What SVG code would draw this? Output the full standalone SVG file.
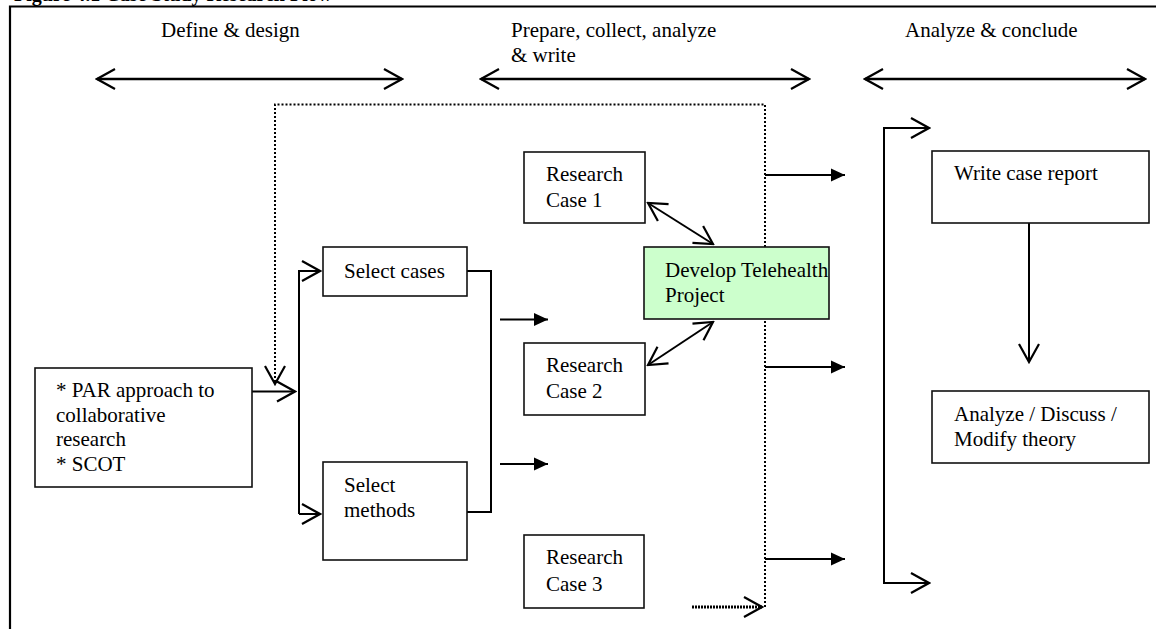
<svg xmlns="http://www.w3.org/2000/svg" width="1156" height="629" viewBox="0 0 1156 629">
  <style>
    .txt { font-family: "Liberation Serif", "Times New Roman", serif; font-size: 21px; fill: #000; }
    .title { font-family: "Liberation Serif", "Times New Roman", serif; font-size: 20px; font-weight: bold; fill: #000; }
    .box { fill: #fff; stroke: #111; stroke-width: 1.6; }
    .hl { fill: #ccffcc; }
    .ln { fill: none; stroke: #000; stroke-width: 2; }
    .phase { fill: none; stroke: #000; stroke-width: 2.5; marker-start: url(#open); marker-end: url(#open); }
    .dot { fill: none; stroke: #000; stroke-width: 2; stroke-dasharray: 2 2; }
    .dotheavy { fill: none; stroke: #000; stroke-width: 3; stroke-dasharray: 2 1; }
    .frame { fill: none; stroke: #000; stroke-width: 2.2; }
  </style>
  <defs>
    <marker id="open" viewBox="-22 -12 24 24" refX="0" refY="0" markerWidth="24" markerHeight="24" markerUnits="userSpaceOnUse" orient="auto-start-reverse">
      <path d="M-18,-10 L0,0 L-18,10" fill="none" stroke="#000" stroke-width="2.2"/>
    </marker>
    <marker id="solid" viewBox="-16 -8 18 16" refX="0" refY="0" markerWidth="18" markerHeight="16" markerUnits="userSpaceOnUse" orient="auto">
      <path d="M-14,-6.5 L0,0 L-14,6.5 Z" fill="#000"/>
    </marker>
  </defs>

  <rect width="1156" height="629" fill="#fff"/>

  <!-- caption, clipped by the page top -->
  <text class="title" x="14" y="1">Figure 4.1 Case Study Research Flow</text>

  <!-- outer frame -->
  <path class="frame" d="M10,640 L10,6.5 L1160,6.5"/>

  <!-- phase headings -->
  <g id="phases">
    <text class="txt" x="161" y="37">Define &amp; design</text>
    <text class="txt" x="511" y="37">Prepare, collect, analyze</text>
    <text class="txt" x="511" y="62">&amp; write</text>
    <text class="txt" x="905" y="37">Analyze &amp; conclude</text>
  </g>

  <g id="connectors">
    <!-- phase spans -->
    <path class="phase" d="M97,79 L402,79"/>
    <path class="phase" d="M481,79 L809,79"/>
    <path class="phase" d="M865,79 L1145,79"/>

    <!-- iteration loop (dotted) -->
    <path class="dot" d="M765,607 L765,104.5 L275,104.5 L275,384" marker-end="url(#open)"/>
    <path class="dotheavy" d="M692,607 L762,607" marker-end="url(#open)"/>

    <!-- theory into case selection -->
    <path class="ln" d="M252,391.5 L295,391.5" marker-end="url(#open)"/>
    <path class="ln" d="M299,514 L299,271 L320,271" marker-end="url(#open)"/>
    <path class="ln" d="M299,514 L320,514" marker-end="url(#open)"/>

    <!-- selection bracket -->
    <path class="ln" d="M467,271 L491,271 L491,512 L467,512"/>

    <!-- into research cases -->
    <path class="ln" d="M500,319.5 L548,319.5" marker-end="url(#solid)"/>
    <path class="ln" d="M500,464 L548,464" marker-end="url(#solid)"/>

    <!-- cases with telehealth project -->
    <path class="ln" d="M648,203 L713,244" marker-start="url(#open)" marker-end="url(#open)"/>
    <path class="ln" d="M713,322 L648,365" marker-start="url(#open)" marker-end="url(#open)"/>

    <!-- out to analysis -->
    <path class="ln" d="M765,175 L845,175" marker-end="url(#solid)"/>
    <path class="ln" d="M765,367 L845,367" marker-end="url(#solid)"/>
    <path class="ln" d="M765,559 L845,559" marker-end="url(#solid)"/>

    <!-- conclusion bracket -->
    <path class="ln" d="M929,128 L884,128 L884,583 L929,583" marker-start="url(#open)" marker-end="url(#open)"/>

    <!-- report to theory -->
    <path class="ln" d="M1029,223 L1029,362" marker-end="url(#open)"/>
  </g>

  <g id="par">
    <rect class="box" x="35" y="368" width="217" height="119"/>
    <text class="txt" x="56" y="397">* PAR approach to</text>
    <text class="txt" x="56" y="421.5">collaborative</text>
    <text class="txt" x="56" y="446">research</text>
    <text class="txt" x="56" y="470.5">* SCOT</text>
  </g>

  <g id="select-cases">
    <rect class="box" x="323" y="247" width="144" height="49"/>
    <text class="txt" x="344" y="278">Select cases</text>
  </g>

  <g id="select-methods">
    <rect class="box" x="323" y="462" width="144" height="98"/>
    <text class="txt" x="344" y="492">Select</text>
    <text class="txt" x="344" y="517">methods</text>
  </g>

  <g id="case-1">
    <rect class="box" x="524" y="152" width="121" height="71"/>
    <text class="txt" x="546" y="181">Research</text>
    <text class="txt" x="546" y="207">Case 1</text>
  </g>

  <g id="case-2">
    <rect class="box" x="524" y="343" width="121" height="72"/>
    <text class="txt" x="546" y="372">Research</text>
    <text class="txt" x="546" y="398">Case 2</text>
  </g>

  <g id="case-3">
    <rect class="box" x="524" y="535" width="120" height="73"/>
    <text class="txt" x="546" y="564">Research</text>
    <text class="txt" x="546" y="591">Case 3</text>
  </g>

  <g id="telehealth">
    <rect class="box hl" x="644" y="247" width="185" height="72"/>
    <text class="txt" x="665" y="277">Develop Telehealth</text>
    <text class="txt" x="665" y="302">Project</text>
  </g>

  <g id="case-report">
    <rect class="box" x="932" y="151" width="217" height="72"/>
    <text class="txt" x="954" y="180">Write case report</text>
  </g>

  <g id="theory">
    <rect class="box" x="932" y="391" width="217" height="72"/>
    <text class="txt" x="954" y="421">Analyze / Discuss /</text>
    <text class="txt" x="954" y="446">Modify theory</text>
  </g>
</svg>
